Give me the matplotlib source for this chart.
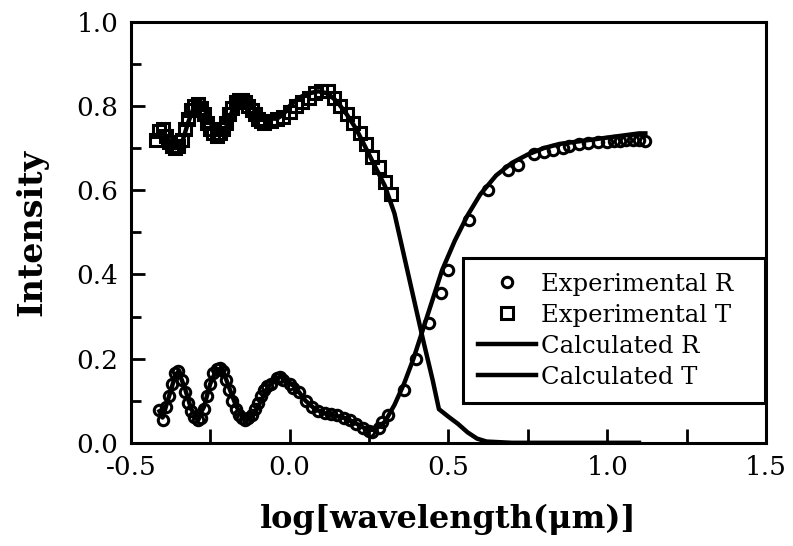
import matplotlib
matplotlib.use('Agg')
import matplotlib.pyplot as plt
from matplotlib.ticker import MultipleLocator, FormatStrFormatter

# experimental reflectance (circles)
exp_r_x = [-0.41, -0.40, -0.39, -0.38, -0.37, -0.36, -0.35, -0.34, -0.33, -0.32,
           -0.31, -0.30, -0.29, -0.28, -0.27, -0.26, -0.25, -0.24, -0.23, -0.22,
           -0.21, -0.20, -0.19, -0.18, -0.17, -0.16, -0.15, -0.14, -0.13, -0.12,
           -0.11, -0.10, -0.09, -0.08, -0.07, -0.06, -0.04, -0.03, -0.02, 0.00,
           0.01, 0.03, 0.05, 0.07, 0.09, 0.11, 0.13, 0.15, 0.17, 0.19,
           0.21, 0.23, 0.25, 0.26, 0.28, 0.29, 0.31, 0.36, 0.397, 0.44,
           0.476, 0.498, 0.565, 0.625, 0.688, 0.72, 0.77, 0.80, 0.83, 0.86,
           0.88, 0.91, 0.94, 0.97, 1.00, 1.02, 1.04, 1.06, 1.08, 1.10, 1.12]
exp_r_y = [0.078, 0.055, 0.085, 0.11, 0.14, 0.165, 0.17, 0.15, 0.12, 0.095,
           0.075, 0.062, 0.055, 0.06, 0.08, 0.11, 0.14, 0.165, 0.175, 0.178,
           0.17, 0.15, 0.125, 0.10, 0.08, 0.065, 0.058, 0.055, 0.058, 0.065,
           0.08, 0.095, 0.11, 0.125, 0.135, 0.14, 0.155, 0.157, 0.15, 0.14,
           0.13, 0.12, 0.10, 0.085, 0.075, 0.07, 0.068, 0.065, 0.06, 0.055,
           0.045, 0.035, 0.028, 0.025, 0.035, 0.05, 0.065, 0.126, 0.20, 0.285,
           0.356, 0.41, 0.53, 0.60, 0.648, 0.66, 0.685, 0.69, 0.695, 0.70,
           0.705, 0.71, 0.712, 0.715, 0.715, 0.718, 0.718, 0.72, 0.72, 0.72, 0.718]

# experimental transmittance (squares)
exp_t_x = [-0.42, -0.41, -0.40, -0.39, -0.38, -0.37, -0.36, -0.35, -0.34, -0.33,
           -0.32, -0.31, -0.30, -0.29, -0.28, -0.27, -0.26, -0.25, -0.24, -0.23,
           -0.22, -0.21, -0.20, -0.19, -0.18, -0.17, -0.16, -0.15, -0.14, -0.13,
           -0.12, -0.11, -0.10, -0.09, -0.08, -0.06, -0.04, -0.02, 0.00, 0.02,
           0.04, 0.06, 0.08, 0.10, 0.12, 0.14, 0.16, 0.18, 0.20, 0.22,
           0.24, 0.26, 0.28, 0.30, 0.32]
exp_t_y = [0.72, 0.74, 0.745, 0.73, 0.715, 0.705, 0.70, 0.705, 0.72, 0.745,
           0.77, 0.79, 0.80, 0.805, 0.795, 0.78, 0.76, 0.745, 0.735, 0.73,
           0.735, 0.745, 0.76, 0.78, 0.795, 0.81, 0.815, 0.815, 0.81, 0.80,
           0.79, 0.78, 0.77, 0.765, 0.76, 0.765, 0.77, 0.775, 0.785, 0.80,
           0.81, 0.82, 0.83, 0.835, 0.835, 0.82, 0.80, 0.78, 0.76, 0.735,
           0.71, 0.68, 0.655, 0.62, 0.59]

# calculated reflectance
calc_r_x = [-0.41, -0.40, -0.38, -0.36, -0.35, -0.33, -0.31, -0.29, -0.27, -0.25,
            -0.23, -0.21, -0.19, -0.17, -0.15, -0.13, -0.11, -0.09, -0.07, -0.05,
            -0.03, -0.01, 0.02, 0.05, 0.08, 0.11, 0.14, 0.17, 0.20, 0.23,
            0.25, 0.27, 0.30, 0.33, 0.36, 0.39, 0.42, 0.45, 0.48, 0.52,
            0.56, 0.60, 0.65, 0.70, 0.75, 0.80, 0.85, 0.90, 0.95, 1.00,
            1.05, 1.10, 1.12]
calc_r_y = [0.075, 0.06, 0.11, 0.16, 0.17, 0.13, 0.08, 0.058, 0.085, 0.14,
            0.175, 0.172, 0.13, 0.09, 0.062, 0.055, 0.07, 0.10, 0.13, 0.15,
            0.157, 0.15, 0.13, 0.10, 0.08, 0.07, 0.065, 0.06, 0.05, 0.037,
            0.03, 0.032, 0.05, 0.09, 0.14, 0.20, 0.27, 0.34, 0.41, 0.48,
            0.54, 0.59, 0.635, 0.665, 0.685, 0.70, 0.71, 0.715, 0.72, 0.725,
            0.73, 0.735, 0.735]

# calculated transmittance
calc_t_x = [-0.42, -0.40, -0.38, -0.36, -0.34, -0.32, -0.30, -0.28, -0.26, -0.24,
            -0.22, -0.20, -0.18, -0.16, -0.14, -0.12, -0.10, -0.08, -0.06, -0.04,
            -0.02, 0.00, 0.03, 0.06, 0.09, 0.12, 0.15, 0.18, 0.21, 0.24,
            0.27, 0.30, 0.33, 0.36, 0.39, 0.42, 0.45, 0.47, 0.50, 0.53,
            0.56, 0.59, 0.62, 0.70, 0.80, 0.90, 1.00, 1.10]
calc_t_y = [0.73, 0.74, 0.72, 0.70, 0.71, 0.76, 0.80, 0.81, 0.78, 0.745,
            0.73, 0.75, 0.79, 0.815, 0.82, 0.80, 0.78, 0.77, 0.77, 0.77,
            0.78, 0.80, 0.82, 0.83, 0.835, 0.83, 0.81, 0.78, 0.745, 0.70,
            0.655, 0.61, 0.545, 0.445, 0.345, 0.245, 0.15, 0.08, 0.062, 0.045,
            0.025, 0.01, 0.003, 0.0, 0.0, 0.0, 0.0, 0.0]

plt.rcParams['font.family'] = 'DejaVu Serif'

fig = plt.figure(figsize=(7.93, 5.46), dpi=100)
ax = fig.add_axes([0.165, 0.189, 0.801, 0.771])

ax.plot(calc_r_x, calc_r_y, color='black', linewidth=3.2, label='Calculated R', zorder=2)
ax.plot(calc_t_x, calc_t_y, color='black', linewidth=3.2, label='Calculated T', zorder=2)
ax.plot(exp_r_x, exp_r_y, linestyle='none', marker='o', markersize=7.5,
        markerfacecolor='none', markeredgecolor='black', markeredgewidth=2.2,
        label='Experimental R', zorder=3)
ax.plot(exp_t_x, exp_t_y, linestyle='none', marker='s', markersize=9,
        markerfacecolor='none', markeredgecolor='black', markeredgewidth=2.2,
        label='Experimental T', zorder=3)

ax.set_xlim(-0.5, 1.5)
ax.set_ylim(0.0, 1.0)
ax.xaxis.set_major_locator(MultipleLocator(0.5))
ax.xaxis.set_minor_locator(MultipleLocator(0.25))
ax.yaxis.set_major_locator(MultipleLocator(0.2))
ax.yaxis.set_minor_locator(MultipleLocator(0.1))
ax.xaxis.set_major_formatter(FormatStrFormatter('%.1f'))
ax.yaxis.set_major_formatter(FormatStrFormatter('%.1f'))
ax.tick_params(which='both', direction='in', width=2, labelsize=19)
ax.tick_params(which='major', length=10, pad=9)
ax.tick_params(which='minor', length=7)
ax.tick_params(axis='x', which='minor', length=10)
for spine in ax.spines.values():
    spine.set_linewidth(2.2)

ax.set_xlabel('log[wavelength(\u03bcm)]', fontsize=23, fontweight='bold', labelpad=17)
ax.set_ylabel('Intensity', fontsize=24, fontweight='bold', labelpad=20)

handles, labels = ax.get_legend_handles_labels()
order = [2, 3, 0, 1]
legend = ax.legend([handles[i] for i in order], [labels[i] for i in order],
                   loc='upper left', bbox_to_anchor=(0.523, 0.439, 0.475, 0.0),
                   mode='expand', fontsize=17.5, frameon=True, fancybox=False,
                   edgecolor='black', framealpha=1, borderpad=0.6,
                   labelspacing=0.33, handlelength=2.4, handletextpad=0.2,
                   borderaxespad=0.0)
legend.get_frame().set_linewidth(2.2)

fig.savefig('out.png', dpi=100)
